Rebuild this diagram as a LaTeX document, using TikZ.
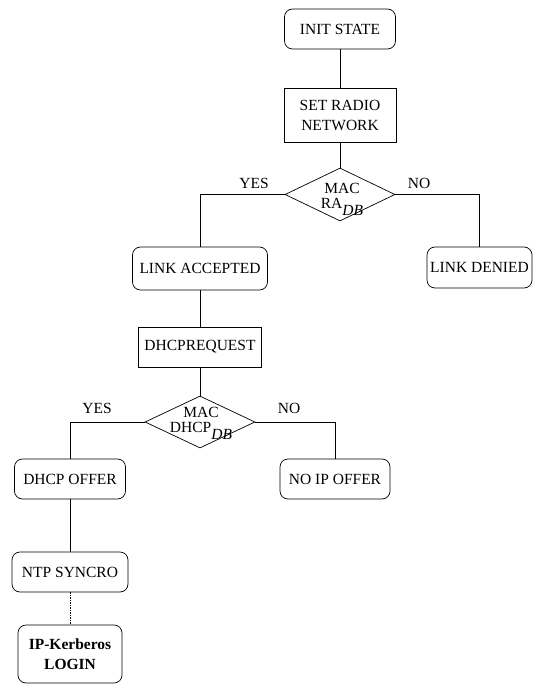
\documentclass[tikz,border=0pt]{standalone}
\usepackage{fontspec}
\setmainfont{Liberation Serif}
\usetikzlibrary{shapes.geometric}

\newcommand{\dbsub}{\raisebox{-7pt}[0pt][0pt]{\itshape DB}}

\tikzset{
  txt/.style={font=\fontsize{15.5}{14.5}\selectfont},
  roundbox/.style={draw, rounded corners=8pt, inner sep=0pt, align=center, txt},
  plainbox/.style={draw, inner sep=0pt, align=center, txt},
  decision/.style={draw, diamond, inner sep=0pt, minimum width=110pt, minimum height=53pt},
  answer/.style={txt, inner sep=0pt},
  link/.style={draw},
  weaklink/.style={draw, dash pattern=on 1.5pt off 1pt}
}

\begin{document}
\begin{tikzpicture}[x=1pt, y=-1pt, line width=0.7pt]
  \useasboundingbox (0,0) rectangle (534,684);

  % upper branch: radio link admission
  \node[roundbox, minimum width=111pt, minimum height=40pt] (init) at (340,29) {INIT STATE};
  \node[plainbox, minimum width=112pt, minimum height=54pt,
        font=\fontsize{15.5}{20}\selectfont] (radio) at (340,115) {SET RADIO\\NETWORK};
  \node[decision] (d1) at (340,194.5) {};
  \node[txt, align=center, inner sep=0pt] (d1txt) at (342,196) {MAC\\RA\dbsub};
  \node[roundbox, minimum width=135pt, minimum height=43pt] (accepted) at (200,268.5) {LINK ACCEPTED};
  \node[roundbox, minimum width=105pt, minimum height=41pt] (denied) at (479.5,267.5) {LINK DENIED};
  \node[answer] (yes1) at (254,183) {YES};
  \node[answer] (no1) at (419,183) {NO};

  % lower branch: address assignment
  \node[plainbox, minimum width=123pt, minimum height=40pt] (request) at (200,347) {DHCPREQUEST};
  \node[decision, minimum height=52pt] (d2) at (200,422) {};
  \node[txt, align=center, inner sep=0pt] (d2txt) at (201,420) {MAC\\DHCP\dbsub};
  \node[roundbox, minimum width=111pt, minimum height=40pt] (offer) at (70,479) {DHCP OFFER};
  \node[roundbox, minimum width=110pt, minimum height=40pt] (noip) at (335,479) {NO IP OFFER};
  \node[answer] (yes2) at (97,408) {YES};
  \node[answer] (no2) at (289,408) {NO};

  % synchronisation and login
  \node[roundbox, minimum width=116pt, minimum height=40pt] (ntp) at (70,572) {NTP SYNCRO};
  \node[roundbox, minimum width=104pt, minimum height=58pt,
        font=\fontsize{15.5}{20}\selectfont\bfseries] (login) at (70,654) {IP-Kerberos\\LOGIN};

  % connectors
  \draw[link] (init) -- (radio);
  \draw[link] (radio) -- (d1.north);
  \draw[link] (d1.west) -| (accepted.north);
  \draw[link] (d1.east) -| (denied.north);
  \draw[link] (accepted) -- (request);
  \draw[link] (request) -- (d2.north);
  \draw[link] (d2.west) -| (offer.north);
  \draw[link] (d2.east) -| (noip.north);
  \draw[link] (offer) -- (ntp);
  \draw[weaklink] (ntp) -- (login);
\end{tikzpicture}
\end{document}
